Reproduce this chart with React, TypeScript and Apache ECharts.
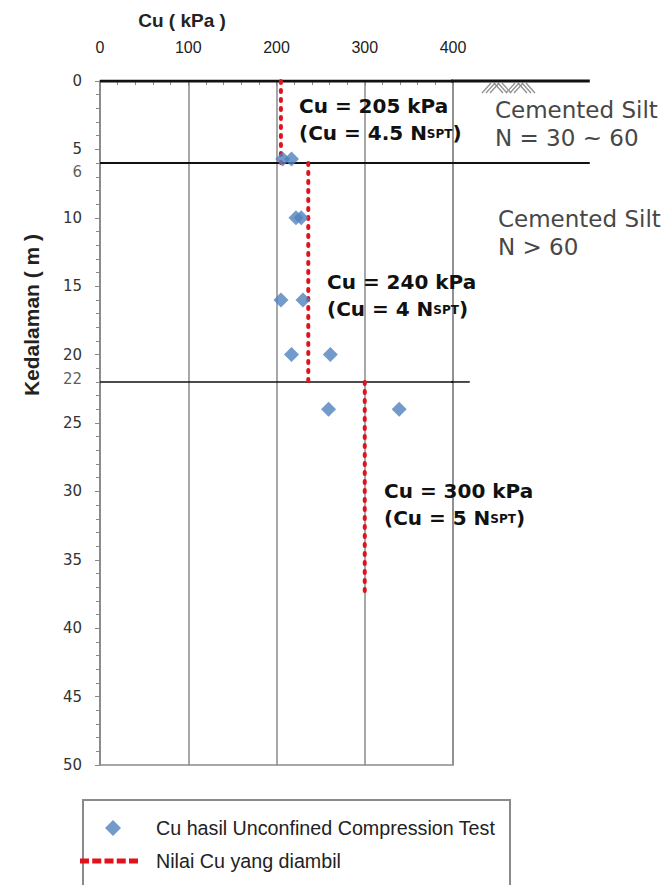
import React, { useEffect, useRef } from 'react';
import * as echarts from 'echarts';

// ---------- data ----------
const CU_TEST = [207, 217, 222, 228, 205, 230, 217, 261, 259, 339];
const DEPTH_TEST = [5.7, 5.7, 10, 10, 16, 16, 20, 20, 24, 24];

const ADOPTED_CU = [205, 236, 300];
const ADOPTED_TOP = [0, 6, 22];
const ADOPTED_BOTTOM = [6, 22, 37.5];

const LAYER_DEPTHS = [0, 6, 22];
const EXTRA_DEPTH_LABELS = [6, 22];

const X_MIN = 0;
const X_MAX = 400;
const X_INTERVAL = 100;
const Y_MIN = 0;
const Y_MAX = 50;
const Y_INTERVAL = 5;

const ANNOT_LINE1 = ['Cu = 205 kPa', 'Cu = 240 kPa', 'Cu = 300 kPa'];
const ANNOT_FACTOR = ['4.5', '4', '5'];
const SOIL_NAME = ['Cemented Silt', 'Cemented Silt'];
const SOIL_N = ['N = 30 ~ 60', 'N > 60'];
const LEGEND_TEST = 'Cu hasil Unconfined Compression Test';
const LEGEND_ADOPTED = 'Nilai Cu yang diambil';
const X_TITLE = 'Cu ( kPa )';
const Y_TITLE = 'Kedalaman ( m )';

// ---------- layout / style ----------
const W = 669;
const H = 885;
const GRID = { left: 100, top: 81, width: 353, height: 684 };
const LAYER_LINE_END = [555, 555, 419]; // in kPa units, how far each boundary line reaches
const LAYER_LINE_W = [3, 2, 1.5];
const EXTRA_LABEL_OFFSET = [[0, 9], [0, -3]];
const ANNOT_POS = [[299, 106], [327, 282], [384, 491]];
const SOIL_POS = [[495, 110], [498, 219]];
const RED = '#e0121c';
const BLUE = '#4f81bd';
const GRAY = '#8a8a8a';
const DASH_ICON =
  'path://M0,0h9v5h-9z M12.25,0h9v5h-9z M24.5,0h9v5h-9z M36.75,0h9v5h-9z M49,0h9v5h-9z';

function buildGraphic(chart: any) {
  const els: any[] = [];
  // boundary line extensions beyond the plot frame, placed through the axes' scale
  LAYER_DEPTHS.forEach((d, i) => {
    const a = chart.convertToPixel({ xAxisIndex: 0, yAxisIndex: 0 }, [X_MIN, d]);
    const b = chart.convertToPixel({ xAxisIndex: 0, yAxisIndex: 0 }, [X_MAX, d]);
    const pxPerUnit = (b[0] - a[0]) / (X_MAX - X_MIN);
    const xEnd = a[0] + (LAYER_LINE_END[i] - X_MIN) * pxPerUnit;
    els.push({
      type: 'line', z: 3, silent: true,
      shape: { x1: b[0] - 2, y1: b[1], x2: xEnd, y2: b[1] },
      style: { stroke: '#111', lineWidth: LAYER_LINE_W[i] },
    });
  });
  const boldFont = { fontFamily: 'DejaVu Sans', fontWeight: 'bold', fill: '#111' };
  ANNOT_LINE1.forEach((t, i) => {
    const [x, y] = ANNOT_POS[i];
    els.push({
      type: 'text', x, y, z: 10,
      style: { text: t, fontSize: 20, ...boldFont, verticalAlign: 'middle' },
    });
    els.push({
      type: 'text', x, y: y + 27, z: 10,
      style: {
        text: `{a|(Cu = ${ANNOT_FACTOR[i]} N}{s|SPT}{a|)}`,
        verticalAlign: 'middle',
        rich: {
          a: { fontSize: 20, ...boldFont, verticalAlign: 'bottom' },
          s: { fontSize: 12, ...boldFont, verticalAlign: 'bottom', padding: [0, 0, 3, 0] },
        },
      },
    });
  });
  SOIL_NAME.forEach((t, i) => {
    const [x, y] = SOIL_POS[i];
    const st = { fontFamily: 'DejaVu Sans', fontSize: 23, fill: '#474747', verticalAlign: 'middle' };
    els.push({ type: 'text', x, y, style: { text: t, ...st } });
    els.push({ type: 'text', x, y: y + 28, style: { text: SOIL_N[i], ...st } });
  });
  // ground hatch symbol
  [482, 486, 490, 506, 510, 514].forEach((x) =>
    els.push({ type: 'line', shape: { x1: x, y1: 93, x2: x + 9, y2: 83 }, style: { stroke: '#8f8f8f', lineWidth: 1.2 } })
  );
  [494, 498, 502, 518, 522, 526].forEach((x) =>
    els.push({ type: 'line', shape: { x1: x, y1: 83, x2: x + 9, y2: 93 }, style: { stroke: '#8f8f8f', lineWidth: 1.2 } })
  );
  // axis titles
  els.push({
    type: 'text', x: 182, y: 20,
    style: { text: X_TITLE, fontFamily: 'Liberation Sans', fontWeight: 'bold', fontSize: 19, fill: '#222', align: 'center', verticalAlign: 'middle' },
  });
  els.push({
    type: 'text', x: 31, y: 315, rotation: Math.PI / 2,
    style: { text: Y_TITLE, fontFamily: 'Liberation Sans', fontWeight: 'bold', fontSize: 21, fill: '#222', align: 'center', verticalAlign: 'middle' },
  });
  // legend frame
  els.push({
    type: 'rect', shape: { x: 83, y: 800, width: 427, height: 110 },
    style: { fill: 'none', stroke: GRAY, lineWidth: 2 }, z: 0,
  });
  return els;
}

export default function App() {
  const ref = useRef<HTMLDivElement>(null);
  useEffect(() => {
    if (!ref.current) return;
    const chart = echarts.init(ref.current, null, { renderer: 'svg', width: W, height: H });
    const tickLine = { color: GRAY, width: 1 };
    const option: any = {
      animation: false,
      backgroundColor: '#ffffff',
      grid: { ...GRID, show: true, borderColor: GRAY, borderWidth: 1.5, backgroundColor: 'transparent' },
      xAxis: {
        type: 'value', position: 'top', min: X_MIN, max: X_MAX, interval: X_INTERVAL,
        axisLine: { show: false },
        axisTick: { show: true, inside: true, length: 5, lineStyle: tickLine },
        minorTick: { show: true, splitNumber: 5, length: 4, lineStyle: tickLine },
        axisLabel: { margin: 26, fontSize: 16, fontFamily: 'Liberation Sans', color: '#222' },
        splitLine: { show: true, lineStyle: { color: GRAY, width: 1.5 } },
      },
      yAxis: {
        type: 'value', inverse: true, min: Y_MIN, max: Y_MAX, interval: Y_INTERVAL,
        axisLine: { show: true, lineStyle: { color: GRAY, width: 1.5 } },
        axisTick: { show: true, length: 5, lineStyle: tickLine },
        minorTick: { show: true, splitNumber: 5, length: 4, lineStyle: tickLine },
        axisLabel: { margin: 18, fontSize: 15, fontFamily: 'DejaVu Sans', color: '#333' },
        splitLine: { show: false },
      },
      legend: [
        {
          data: [{ name: LEGEND_TEST, icon: 'diamond', itemStyle: { color: BLUE, borderWidth: 0 } }],
          left: 105, top: 818, padding: 0, itemWidth: 16, itemHeight: 16, selectedMode: false,
          textStyle: { fontSize: 19.7, fontFamily: 'Liberation Sans', color: '#222', padding: [0, 0, 0, 30] },
        },
        {
          data: [{ name: LEGEND_ADOPTED, icon: DASH_ICON, itemStyle: { color: RED, borderWidth: 0 } }],
          left: 80, top: 851, padding: 0, itemWidth: 58, itemHeight: 5, symbolKeepAspect: false, selectedMode: false,
          textStyle: { fontSize: 19.7, fontFamily: 'Liberation Sans', color: '#222', padding: [0, 0, 0, 13] },
        },
      ],
      series: [
        ...LAYER_DEPTHS.map((d, i) => ({
          type: 'line', name: 'layer' + i, silent: true, symbol: 'none', z: 3,
          data: [[X_MIN, d], [X_MAX, d]],
          lineStyle: { color: '#111', width: LAYER_LINE_W[i] },
        })),
        ...ADOPTED_CU.map((c, i) => ({
          type: 'line', name: LEGEND_ADOPTED, symbol: 'none', z: 4,
          data: [[c, ADOPTED_TOP[i]], [c, ADOPTED_BOTTOM[i]]],
          lineStyle: { color: RED, width: 4, type: [2, 7], cap: 'round' },
          itemStyle: { color: RED },
        })),
        {
          type: 'scatter', name: LEGEND_TEST, symbol: 'diamond', symbolSize: 15, z: 5,
          itemStyle: { color: BLUE },
          data: CU_TEST.map((c, i) => [c, DEPTH_TEST[i]]),
        },
        {
          type: 'scatter', name: 'extraDepthLabels', silent: true, clip: false, symbolSize: 0, z: 6,
          data: EXTRA_DEPTH_LABELS.map((d, i) => ({
            value: [X_MIN, d],
            label: { offset: EXTRA_LABEL_OFFSET[i] },
          })),
          label: {
            show: true, position: 'left', distance: 18,
            fontSize: 15, fontFamily: 'DejaVu Sans', color: '#333',
            formatter: (p: any) => String(p.value[1]),
          },
        },
      ],
    };
    chart.setOption(option);
    chart.setOption({ graphic: buildGraphic(chart) });
    return () => chart.dispose();
  }, []);
  return (
    <div
      ref={ref}
      style={{ position: 'fixed', left: 0, top: 0, width: W, height: H, background: '#fff' }}
    />
  );
}
